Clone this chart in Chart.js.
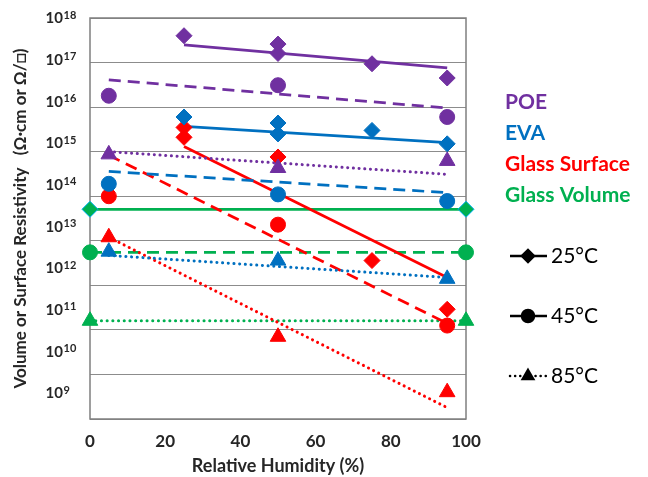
<!DOCTYPE html>
<html>
<head>
<meta charset="utf-8">
<script src="https://cdn.jsdelivr.net/npm/chart.js@4"></script>
<style>
  body { margin: 0; background: #fff; }
</style>
</head>
<body>
<canvas id="resistivityChart" width="648" height="477"></canvas>
<script>
// axis ticks
const yTickExponents = [9, 10, 11, 12, 13, 14, 15, 16, 17, 18];
const xTickStep = 20;

// POE
const poe25X = [25, 50, 50, 75, 95];
const poe25Y = [4.0e17, 2.6e17, 1.6e17, 9.4e16, 4.5e16];
const poe25FitY = [2.5e17, 7.6e16];
const poe45X = [5, 50, 95];
const poe45Y = [1.8e16, 3.1e16, 6.0e15];
const poe45FitY = [4.1e16, 9.5e15];
const poe85X = [5, 50, 95];
const poe85Y = [8.7e14, 4.3e14, 6.2e14];
const poe85FitY = [1.0e15, 3.1e14];

// EVA
const eva25X = [25, 50, 50, 75, 95];
const eva25Y = [6.0e15, 4.4e15, 2.5e15, 3.0e15, 1.5e15];
const eva25FitY = [3.7e15, 1.6e15];
const eva45X = [5, 50, 95];
const eva45Y = [1.9e14, 1.1e14, 7.8e13];
const eva45FitY = [3.6e14, 1.2e14];
const eva85X = [5, 50, 95];
const eva85Y = [5.7e12, 3.6e12, 1.4e12];
const eva85FitY = [4.7e12, 1.5e12];

// Glass surface
const surf25X = [25, 25, 50, 75, 95];
const surf25Y = [3.5e15, 2.1e15, 7.6e14, 3.6e12, 2.9e11];
const surf25FitY = [1.3e15, 1.5e12];
const surf45X = [5, 50, 95];
const surf45Y = [1.0e14, 2.3e13, 1.25e11];
const surf45FitY = [8.3e14, 1.4e11];
const surf85X = [5, 50, 95];
const surf85Y = [1.2e13, 7.0e10, 4.0e9];
const surf85FitY = [1.2e13, 1.8e9];

// Glass volume (constant with humidity)
const volX = [0, 100];
const vol25Y = [5.1e13, 5.1e13];
const vol45Y = [5.5e12, 5.5e12];
const vol85Y = [1.6e11, 1.6e11];

// trend line ends
const fit25X = [25, 95];
const fitX = [5, 95];

const purple = '#7030A0', blue = '#0070C0', red = '#FF0000', green = '#00B050';
const fontFamily = 'Lato, "Open Sans", sans-serif';

const seriesNames = ['POE', 'EVA', 'Glass Surface', 'Glass Volume'];
const seriesColors = [purple, blue, red, green];
const tempNames = ['25°C', '45°C', '85°C'];

const DASHED = [12, 7];
const DOTTED = [0.1, 5.6];

function pts(xs, ys) {
    return xs.map((x, i) => ({ x: x, y: ys[i] }));
}

function markers(xs, ys, color, style, edge) {
    const r = style === 'triangle' ? 9 : (style === 'circle' ? 7.5 : 8);
    return {
        data: pts(xs, ys),
        showLine: false,
        pointStyle: style,
        pointRadius: r,
        pointHoverRadius: r,
        backgroundColor: color,
        borderColor: edge || color,
        borderWidth: 1,
        order: 0,
        clip: false
    };
}

function trend(xs, ys, color, dash) {
    return {
        data: pts(xs, ys),
        showLine: true,
        pointRadius: 0,
        borderColor: color,
        borderWidth: dash === DOTTED ? 3 : 2.75,
        borderDash: dash,
        borderCapStyle: dash === DOTTED ? 'round' : 'butt',
        fill: false,
        order: 1,
        clip: false
    };
}

const frame = {
    id: 'frame',
    beforeDatasetsDraw(chart) {
        const a = chart.chartArea, ctx = chart.ctx;
        ctx.save();
        ctx.strokeStyle = '#7f7f7f';
        ctx.lineWidth = 1.5;
        ctx.strokeRect(a.left, a.top, a.right - a.left, a.bottom - a.top);
        ctx.restore();
    }
};

// y labels as 10 with a raised exponent
const powerLabels = {
    id: 'powerLabels',
    afterDraw(chart) {
        const s = chart.scales.yLabels, ctx = chart.ctx;
        ctx.save();
        ctx.fillStyle = '#262626';
        ctx.textBaseline = 'middle';
        yTickExponents.forEach(e => {
            const y = s.getPixelForValue(Math.pow(10, e));
            ctx.textAlign = 'right';
            ctx.font = 'bold 15px ' + fontFamily;
            ctx.fillText('10', 63, y + 0.5);
            ctx.textAlign = 'left';
            ctx.font = 'bold 11px ' + fontFamily;
            ctx.fillText(String(e), 63.5, y - 3);
        });
        ctx.restore();
    }
};

const sideLegend = {
    id: 'sideLegend',
    afterDraw(chart) {
        const ctx = chart.ctx;
        ctx.save();
        ctx.textBaseline = 'middle';
        ctx.textAlign = 'left';
        ctx.font = 'bold 21px ' + fontFamily;
        seriesNames.forEach((name, i) => {
            ctx.fillStyle = seriesColors[i];
            ctx.fillText(name, 505, 102 + i * 31);
        });
        const styles = ['rectRot', 'circle', 'triangle'];
        const dashes = [[], [], [0.1, 5]];
        tempNames.forEach((name, i) => {
            const y = 256 + i * 60;
            ctx.strokeStyle = '#000';
            ctx.fillStyle = '#000';
            ctx.lineWidth = 2.5;
            ctx.lineCap = i === 2 ? 'round' : 'butt';
            ctx.setLineDash(dashes[i]);
            ctx.beginPath();
            ctx.moveTo(510, y);
            ctx.lineTo(547, y);
            ctx.stroke();
            ctx.setLineDash([]);
            Chart.helpers.drawPoint(ctx, { pointStyle: styles[i], radius: 6, rotation: 0, borderWidth: 1 }, 528, y);
            ctx.font = '21px ' + fontFamily;
            ctx.fillText(name, 551, y);
        });
        ctx.restore();
    }
};

document.addEventListener('DOMContentLoaded', function () {
    const ctx = document.getElementById('resistivityChart').getContext('2d');
    new Chart(ctx, {
        type: 'scatter',
        data: {
            datasets: [
                markers(poe25X, poe25Y, purple, 'rectRot'),
                markers(poe45X, poe45Y, purple, 'circle'),
                markers(poe85X, poe85Y, purple, 'triangle'),
                markers(eva25X, eva25Y, blue, 'rectRot'),
                markers(eva45X, eva45Y, blue, 'circle'),
                markers(eva85X, eva85Y, blue, 'triangle'),
                markers(surf25X, surf25Y, red, 'rectRot'),
                markers(surf45X, surf45Y, red, 'circle'),
                markers(surf85X, surf85Y, red, 'triangle'),
                markers(volX, vol25Y, green, 'rectRot', '#00B0F0'),
                markers(volX, vol45Y, green, 'circle'),
                markers(volX, vol85Y, green, 'triangle'),
                trend(fit25X, poe25FitY, purple, []),
                trend(fitX, poe45FitY, purple, DASHED),
                trend(fitX, poe85FitY, purple, DOTTED),
                trend(fit25X, eva25FitY, blue, []),
                trend(fitX, eva45FitY, blue, DASHED),
                trend(fitX, eva85FitY, blue, DOTTED),
                trend(fit25X, surf25FitY, red, []),
                trend(fitX, surf45FitY, red, DASHED),
                trend(fitX, surf85FitY, red, DOTTED),
                trend(volX, vol25Y, green, []),
                trend(volX, vol45Y, green, DASHED),
                trend(volX, vol85Y, green, DOTTED)
            ]
        },
        options: {
            responsive: false,
            animation: false,
            layout: { padding: { top: 18, right: 182, bottom: 0, left: 0 } },
            scales: {
                x: {
                    type: 'linear',
                    min: 0,
                    max: 100,
                    ticks: {
                        stepSize: xTickStep,
                        padding: 12,
                        color: '#262626',
                        font: { family: fontFamily, size: 17, weight: 'bold' }
                    },
                    grid: { display: false, drawTicks: false },
                    border: { display: false },
                    title: {
                        display: true,
                        text: 'Relative Humidity (%)',
                        color: '#262626',
                        padding: 0,
                        font: { family: fontFamily, size: 18, weight: 'bold' }
                    },
                    afterFit: s => { s.height = 58; }
                },
                y: {
                    type: 'logarithmic',
                    min: Math.pow(10, yTickExponents[0]),
                    max: Math.pow(10, yTickExponents[yTickExponents.length - 1]),
                    afterBuildTicks: s => { s.ticks = yTickExponents.map(e => ({ value: Math.pow(10, e) })); },
                    ticks: { display: false },
                    grid: { color: '#8c8c8c', lineWidth: 1, drawTicks: false },
                    border: { display: false },
                    afterFit: s => { s.width = 0; }
                },
                yLabels: {
                    type: 'logarithmic',
                    position: 'left',
                    // the original's labels sit on a slightly tighter spacing than the gridlines
                    min: Math.pow(10, 8.376),
                    max: Math.pow(10, yTickExponents[yTickExponents.length - 1]),
                    afterBuildTicks: s => { s.ticks = yTickExponents.map(e => ({ value: Math.pow(10, e) })); },
                    ticks: { display: false },
                    grid: { display: false, drawTicks: false },
                    border: { display: false },
                    title: {
                        display: true,
                        text: 'Volume or Surface Resistivity   (Ω·cm or Ω/□)',
                        color: '#262626',
                        padding: { top: 10, bottom: 0 },
                        font: { family: fontFamily, size: 17, weight: 'bold' }
                    },
                    afterFit: s => { s.width = 90; }
                }
            },
            plugins: {
                legend: { display: false },
                tooltip: { enabled: false }
            }
        },
        plugins: [frame, powerLabels, sideLegend]
    });
});
</script>
</body>
</html>
